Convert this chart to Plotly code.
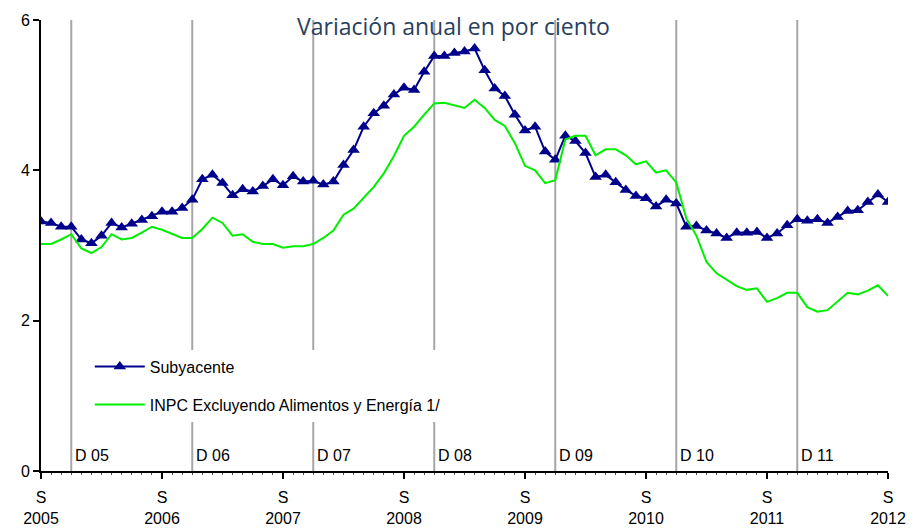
import plotly.graph_objects as go

# monthly observations, index 0 = S 2005 ... 84 = S 2012
months = list(range(85))

subyacente = [
    3.32, 3.30, 3.25, 3.25, 3.08, 3.03, 3.13, 3.30, 3.24, 3.29,
    3.34, 3.39, 3.45, 3.45, 3.50, 3.61, 3.88, 3.94, 3.83, 3.67,
    3.75, 3.72, 3.79, 3.88, 3.80, 3.92, 3.85, 3.86, 3.81, 3.85,
    4.07, 4.27, 4.58, 4.76, 4.86, 5.01, 5.10, 5.07, 5.31, 5.52,
    5.52, 5.56, 5.58, 5.62, 5.33, 5.09, 4.99, 4.74, 4.53, 4.58,
    4.25, 4.14, 4.46, 4.39, 4.23, 3.91, 3.94, 3.84, 3.74, 3.66,
    3.63, 3.52, 3.61, 3.56, 3.25, 3.26, 3.20, 3.16, 3.10, 3.17,
    3.17, 3.18, 3.10, 3.16, 3.27, 3.35, 3.33, 3.35, 3.30, 3.38,
    3.46, 3.47, 3.58, 3.68, 3.58,
]

inpc_sin_ae = [
    3.02, 3.02, 3.08, 3.15, 2.96, 2.90, 2.98, 3.15, 3.08, 3.10,
    3.17, 3.25, 3.21, 3.15, 3.10, 3.10, 3.22, 3.37, 3.30, 3.13,
    3.15, 3.05, 3.02, 3.02, 2.97, 2.99, 2.99, 3.02, 3.10, 3.20,
    3.41, 3.49, 3.63, 3.78, 3.96, 4.19, 4.46, 4.58, 4.74, 4.89,
    4.90, 4.87, 4.83, 4.94, 4.83, 4.67, 4.59, 4.36, 4.06, 4.00,
    3.83, 3.87, 4.41, 4.46, 4.46, 4.20, 4.28, 4.28, 4.20, 4.08,
    4.12, 3.97, 4.00, 3.84, 3.36, 3.13, 2.78, 2.63, 2.55, 2.46,
    2.41, 2.43, 2.25, 2.30, 2.37, 2.37, 2.18, 2.12, 2.14, 2.25,
    2.37, 2.35, 2.40, 2.47, 2.33,
]

tick_pos = [0, 12, 24, 36, 48, 60, 72, 84]
tick_text = ["S<br>2005", "S<br>2006", "S<br>2007", "S<br>2008",
             "S<br>2009", "S<br>2010", "S<br>2011", "S<br>2012"]

dic_pos = [3, 15, 27, 39, 51, 63, 75]
dic_text = ["D 05", "D 06", "D 07", "D 08", "D 09", "D 10", "D 11"]

FONT = "Liberation Sans, Arial, sans-serif"

fig = go.Figure()

fig.add_trace(go.Scatter(
    x=months, y=subyacente, name="Subyacente", mode="lines+markers",
    line=dict(color="#00008B", width=2),
    marker=dict(symbol="triangle-up", size=11, color="#00008B"),
    legendgroup="a",
))
fig.add_trace(go.Scatter(
    x=months, y=inpc_sin_ae, name="INPC Excluyendo Alimentos y Energía 1/",
    mode="lines", line=dict(color="#00EE00", width=2),
    legendgroup="b",
))

# December reference lines
for p in dic_pos:
    fig.add_shape(type="line", x0=p, x1=p, y0=0, y1=1, yref="paper",
                  line=dict(color="#A6A6A6", width=2), layer="below")

for p, t in zip(dic_pos, dic_text):
    fig.add_annotation(x=p, y=0.2, text=t, showarrow=False, xanchor="left",
                       xshift=2, font=dict(size=16, color="black", family=FONT))

fig.add_annotation(text="Variación anual en por ciento", x=0.5, xref="paper",
                   y=1, yref="paper", yanchor="top", yshift=12, xshift=-11,
                   showarrow=False, font=dict(size=23, color="#2a3f5f", family="Open Sans"))

fig.update_xaxes(
    range=[0, 84], tickvals=tick_pos, ticktext=tick_text, automargin=False,
    showline=True, linecolor="black", linewidth=2, showgrid=False,
    ticks="outside", ticklen=6, tickcolor="black", tickwidth=2,
    ticklabelstandoff=5,
    minor=dict(dtick=1, ticks="outside", ticklen=2, tickcolor="#555", tickwidth=1),
    tickfont=dict(size=16, color="black", family=FONT), zeroline=False,
)
fig.update_yaxes(
    range=[0, 6], tickvals=[0, 2, 4, 6], automargin=False,
    showline=True, linecolor="black", linewidth=2, showgrid=False,
    ticks="outside", ticklen=6, tickcolor="black", tickwidth=2,
    tickfont=dict(size=16, color="black", family=FONT), zeroline=False,
)

fig.update_layout(
    width=917, height=529,
    margin=dict(l=33, r=37, t=12, b=66),
    paper_bgcolor="white", plot_bgcolor="white",
    font=dict(family=FONT, size=16, color="black"),
    showlegend=True,
    legend=dict(x=0.0576, y=0.269, xanchor="left", yanchor="top",
                bgcolor="white", font=dict(size=16, color="black", family=FONT),
                tracegroupgap=14, itemwidth=50),
)

fig.write_html("out.html")
